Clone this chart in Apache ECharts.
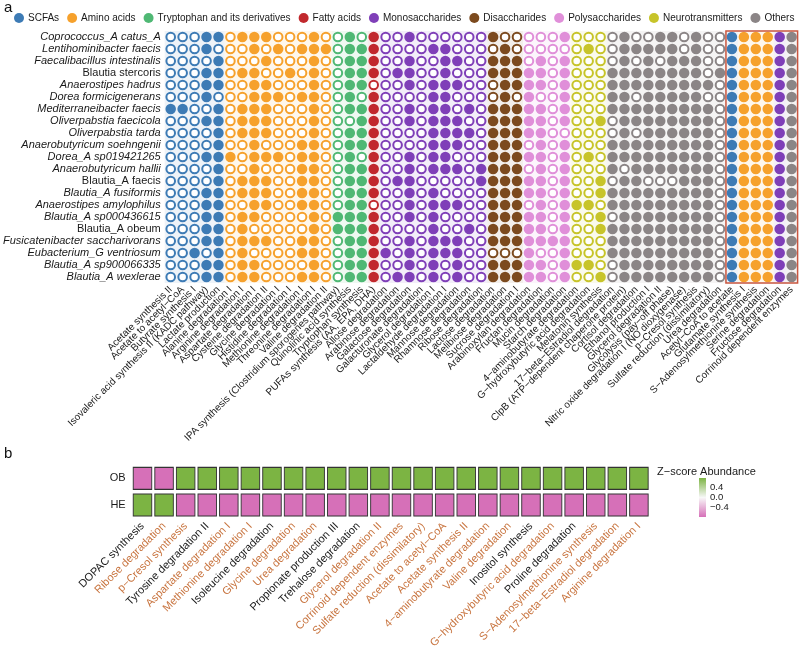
<!DOCTYPE html>
<html>
<head>
<meta charset="utf-8">
<script src="https://cdn.jsdelivr.net/npm/echarts@6/dist/echarts.min.js"></script>
<style>
  html, body { margin: 0; padding: 0; background: #fff; }
  #main { width: 800px; height: 653px; }
</style>
</head>
<body>
<div id="main"></div>
<script>
// ---- panel a: pathway presence per species ----
const categories = ['SCFAs', 'Amino acids', 'Tryptophan and its derivatives', 'Fatty acids',
  'Monosaccharides', 'Disaccharides', 'Polysaccharides', 'Neurotransmitters', 'Others'];
const categoryColors = ['#3d7bb5', '#f6a12c', '#4fb874', '#c1282d', '#7f3fb8',
  '#7c4a1e', '#e08fd9', '#c7c42a', '#8b8586'];

const pathways = [
  'Acetate synthesis II', 'Acetate to acetyl\u2212CoA', 'Butyrate synthesis I',
  'Isovaleric acid synthesis II (KADC pathway)', 'Lactate production',
  'Alanine degradation I', 'Arginine degradation I', 'Aspartate degradation I',
  'Cysteine degradation II', 'Glycine degradation I', 'Histidine degradation I',
  'Methionine degradation I', 'Threonine degradation I', 'Valine degradation II',
  'IPA synthesis (Clostridium sporogenes pathway)', 'Quinolinic acid synthesis', 'Tryptophan synthesis',
  'PUFAs synthesis (AA, EPA, DHA)',
  'Allose degradation', 'Arabinose degradation', 'Galactose degradation', 'Galacturonate degradation',
  'Glycerol degradation I', 'Lactaldehyde degradation I', 'Mannose degradation',
  'Rhamnose degradation', 'Ribose degradation',
  'Lactose degradation', 'Melibiose degradation', 'Sucrose degradation I',
  'Arabinoxylan degradation', 'Fructan degradation', 'Mucin degradation', 'Starch degradation',
  '4\u2212aminobutyrate degradation', 'G\u2212hydroxybutyric acid degradation', 'Melatonin synthesis',
  '17\u2212beta\u2212Estradiol degradation', 'ClpB (ATP\u2212dependent chaperone protein)',
  'Cortisol degradation', 'Ethanol production I', 'Glycerol degradation II',
  'Glycolysis (pay\u2212off phase)', 'Nitric oxide degradation I (NO dioxygenase)',
  'p\u2212Cresol synthesis', 'Sulfate reduction (dissimilatory)', 'Urea degradation',
  'Acetyl\u2212CoA to acetate', 'Glutamate synthesis I', 'S\u2212Adenosylmethionine synthesis',
  'Serine degradation', 'Fructose degradation', 'Corrinoid dependent enzymes'
];
const pathwayCategory = [
  0, 0, 0, 0, 0,
  1, 1, 1, 1, 1, 1, 1, 1, 1,
  2, 2, 2,
  3,
  4, 4, 4, 4, 4, 4, 4, 4, 4,
  5, 5, 5,
  6, 6, 6, 6,
  7, 7, 7,
  8, 8, 8, 8, 8, 8, 8, 8, 8, 8,
  0, 1, 1, 1, 4, 8
];
const boxedFrom = 47;  // pathways shared by every species
const boxedTo = 52;

const species = [
  'Coprococcus_A catus_A', 'Lentihominibacter faecis', 'Faecalibacillus intestinalis',
  'Blautia stercoris', 'Anaerostipes hadrus', 'Dorea formicigenerans', 'Mediterraneibacter faecis',
  'Oliverpabstia faecicola', 'Oliverpabstia tarda', 'Anaerobutyricum soehngenii', 'Dorea_A sp019421265',
  'Anaerobutyricum hallii', 'Blautia_A faecis', 'Blautia_A fusiformis', 'Anaerostipes amylophilus',
  'Blautia_A sp000436615', 'Blautia_A obeum', 'Fusicatenibacter saccharivorans',
  'Eubacterium_G ventriosum', 'Blautia_A sp900066335', 'Blautia_A wexlerae'
];
const uprightSpecies = ['Blautia stercoris', 'Blautia_A faecis', 'Blautia_A obeum'];

// 1 = pathway present (filled dot), 0 = absent (ring); groups follow pathwayCategory
const presence = [
  '00011 011100010 010 1 001000000 100 0001 000 0100110100 111111',
  '00010 001010111 011 1 000011000 010 0000 010 0111110100 111111',
  '00001 000100010 011 1 001001100 111 0101 000 0101011100 111111',
  '00011 011001010 011 1 011001000 111 1101 000 1111111101 111111',
  '00011 001100010 011 0 001011100 011 1101 000 1111111110 111111',
  '00010 001110110 010 1 000011000 010 1001 000 1101111100 111111',
  '11001 011100010 011 1 001011010 111 1101 000 1111111110 111111',
  '00011 011100010 001 1 001011100 111 1101 001 0111111110 111111',
  '00001 011100010 011 1 000011110 111 1100 000 0101111110 111111',
  '00001 001000110 011 1 000011100 111 0101 000 1111111110 111111',
  '00011 101110110 010 1 001011000 111 1101 010 1111111110 111111',
  '00001 001000110 011 1 001011101 111 0101 000 1011111110 111111',
  '00001 011100110 011 1 011000001 111 1101 001 0110001110 111111',
  '00011 011100110 011 1 001010000 111 1101 001 1111111110 111111',
  '00011 001100110 011 0 001011100 111 0101 110 1111111110 111111',
  '00011 011000010 111 1 001010000 111 1101 001 0111111110 111111',
  '00011 010000010 111 1 000010010 111 1101 001 1111111110 111111',
  '00011 011100110 011 1 001011100 111 1111 000 1111111110 111111',
  '00101 010000110 011 1 101011100 000 1001 000 1111111110 111111',
  '00011 011000010 011 1 001010100 111 1101 110 0111111110 111111',
  '00011 011000110 011 1 011010100 111 1101 001 0111111110 111111'
];

// ---- panel b: z-score abundance OB vs HE ----
const heatPathways = [
  'DOPAC synthesis', 'Ribose degradation', 'p\u2212Cresol synthesis', 'Tyrosine degradation II',
  'Aspartate degradation I', 'Methionine degradation I', 'Isoleucine degradation', 'Glycine degradation',
  'Urea degradation', 'Propionate production III', 'Trehalose degradation', 'Glycerol degradation II',
  'Corrinoid dependent enzymes', 'Sulfate reduction (dissimilatory)', 'Acetate to acetyl\u2212CoA',
  'Acetate synthesis II', '4\u2212aminobutyrate degradation', 'Valine degradation', 'Inositol synthesis',
  'G\u2212hydroxybutyric acid degradation', 'Proline degradation', 'S\u2212Adenosylmethionine synthesis',
  '17\u2212beta\u2212Estradiol degradation', 'Arginine degradation I'
];
const heatGroups = ['OB', 'HE'];
const obZ = [-0.71, -0.71, 0.71, 0.71, 0.71, 0.71, 0.71, 0.71, 0.71, 0.71, 0.71, 0.71,
  0.71, 0.71, 0.71, 0.71, 0.71, 0.71, 0.71, 0.71, 0.71, 0.71, 0.71, 0.71];
const heZ = [0.71, 0.71, -0.71, -0.71, -0.71, -0.71, -0.71, -0.71, -0.71, -0.71, -0.71, -0.71,
  -0.71, -0.71, -0.71, -0.71, -0.71, -0.71, -0.71, -0.71, -0.71, -0.71, -0.71, -0.71];
// labels not shared with panel a are drawn in black
const blackLabels = ['DOPAC synthesis', 'Tyrosine degradation II', 'Isoleucine degradation',
  'Propionate production III', 'Trehalose degradation', 'Inositol synthesis', 'Proline degradation'];
const zScale = [-0.8, 0.8];

const HIGH = '#7cb443';
const LOW = '#d670b8';
const FONT = 'Liberation Sans, Arial, Helvetica, sans-serif';

const chart = echarts.init(document.getElementById('main'));

const dotSeries = categories.map((name, c) => {
  const data = [];
  presence.forEach((row, r) => {
    const bits = row.replace(/ /g, '');
    for (let p = 0; p < bits.length; p++) {
      if (pathwayCategory[p] !== c) continue;
      if (bits[p] === '1') {
        data.push({ value: [p, r], symbolSize: 10.5 });
      } else {
        data.push({
          value: [p, r], symbolSize: 8.6,
          itemStyle: { color: '#fff', borderColor: categoryColors[c], borderWidth: 2 }
        });
      }
    }
  });
  return {
    name, type: 'scatter', xAxisIndex: 0, yAxisIndex: 0, z: 3, silent: true,
    itemStyle: { color: categoryColors[c], opacity: 1 }, data
  };
});

// faint column tint behind every pathway
const tintSeries = {
  type: 'custom', xAxisIndex: 0, yAxisIndex: 0, z: 1, silent: true,
  data: pathways.map((p, i) => [i, 0, pathwayCategory[i]]),
  renderItem(params, api) {
    const cs = params.coordSys;
    const x = api.coord([api.value(0), 0])[0];
    const w = api.size([1, 0])[0];
    return {
      type: 'rect',
      shape: { x: x - w / 2, y: cs.y, width: w, height: cs.height },
      style: { fill: categoryColors[api.value(2)], opacity: 0.09 }
    };
  }
};

const boxSeries = {
  type: 'custom', xAxisIndex: 0, yAxisIndex: 0, z: 5, silent: true,
  data: [[boxedFrom, 0, boxedTo]],
  renderItem(params, api) {
    const cs = params.coordSys;
    const w = api.size([1, 0])[0];
    const x0 = api.coord([api.value(0), 0])[0] - w / 2;
    const x1 = api.coord([api.value(2), 0])[0] + w / 2;
    return {
      type: 'rect',
      shape: { x: x0, y: cs.y, width: x1 - x0, height: cs.height },
      style: { fill: 'none', stroke: '#c8553f', lineWidth: 1.5 }
    };
  }
};

const heatData = [];
heatPathways.forEach((p, i) => {
  heatData.push([i, 0, obZ[i]]);
  heatData.push([i, 1, heZ[i]]);
});

const heatSeries = {
  type: 'scatter', xAxisIndex: 1, yAxisIndex: 1, silent: true,
  symbol: 'rect', symbolSize: [18.5, 22],
  itemStyle: { borderColor: '#333', borderWidth: 1, opacity: 1 },
  data: heatData
};

const colorbarSeries = {
  type: 'custom', xAxisIndex: 2, yAxisIndex: 2, silent: true,
  data: [[0.5, zScale[1], zScale[0]]],
  renderItem(params, api) {
    const cs = params.coordSys;
    const top = api.coord([0.5, api.value(1)])[1];
    const bottom = api.coord([0.5, api.value(2)])[1];
    return {
      type: 'rect',
      shape: { x: cs.x, y: top, width: cs.width, height: bottom - top },
      style: {
        fill: new echarts.graphic.LinearGradient(0, 0, 0, 1, [
          { offset: 0, color: HIGH },
          { offset: 0.5, color: '#f8f8f8' },
          { offset: 1, color: LOW }
        ])
      }
    };
  }
};

const series = [tintSeries, ...dotSeries, boxSeries, heatSeries, colorbarSeries];
const heatIndex = series.indexOf(heatSeries);

chart.setOption({
  animation: false,
  textStyle: { fontFamily: FONT },
  title: [
    { text: 'a', left: 4, top: 0, padding: 0, textStyle: { fontSize: 15, fontWeight: 'normal', color: '#111' } },
    { text: 'b', left: 4, top: 446, padding: 0, textStyle: { fontSize: 15, fontWeight: 'normal', color: '#111' } },
    { text: 'Z\u2212score Abundance', left: 657, top: 466, padding: 0, textStyle: { fontSize: 11, fontWeight: 'normal', color: '#1a1a1a' } }
  ],
  legend: {
    data: categories, icon: 'circle', left: 14, top: 13, padding: 0,
    itemWidth: 10, itemHeight: 10, itemGap: 8, selectedMode: false,
    textStyle: { fontSize: 10, color: '#1a1a1a', padding: [0, 0, 0, -1] }
  },
  visualMap: {
    type: 'continuous', show: false, seriesIndex: heatIndex, dimension: 2,
    min: -0.71, max: 0.71, inRange: { color: [LOW, '#f8f8f8', HIGH] }
  },
  grid: [
    { left: 152, top: 31, width: 645.6, height: 252 },
    { left: 131.7, top: 465, width: 518, height: 53.4 },
    { left: 699, top: 478, width: 7, height: 39 }
  ],
  xAxis: [
    {
      type: 'category', gridIndex: 0, data: pathways,
      axisLine: { show: false }, axisTick: { show: false }, splitLine: { show: false },
      axisLabel: { rotate: 45, interval: 0, fontSize: 10, color: '#1a1a1a', margin: 5 }
    },
    {
      type: 'category', gridIndex: 1, data: heatPathways,
      axisLine: { show: false }, axisTick: { show: false }, splitLine: { show: false },
      axisLabel: {
        rotate: 45, interval: 0, fontSize: 11, margin: 6,
        color: v => (blackLabels.includes(v) ? '#1a1a1a' : '#c8743f')
      }
    },
    { type: 'value', gridIndex: 2, min: 0, max: 1, show: false }
  ],
  yAxis: [
    {
      type: 'category', gridIndex: 0, data: species, inverse: true,
      axisLine: { show: false }, axisTick: { show: false }, splitLine: { show: false },
      axisLabel: {
        margin: 4, interval: 0,
        formatter: v => (uprightSpecies.includes(v) ? '{n|' + v + '}' : '{i|' + v + '}'),
        rich: {
          i: { fontSize: 11, fontStyle: 'italic', color: '#1a1a1a', fontFamily: FONT },
          n: { fontSize: 11, color: '#1a1a1a', fontFamily: FONT }
        }
      }
    },
    {
      type: 'category', gridIndex: 1, data: heatGroups, inverse: true,
      axisLine: { show: false }, axisTick: { show: false }, splitLine: { show: false },
      axisLabel: { fontSize: 11, color: '#1a1a1a', margin: 6 }
    },
    {
      type: 'value', gridIndex: 2, min: zScale[0], max: zScale[1], interval: 0.4, position: 'right',
      axisLine: { show: false }, axisTick: { show: false }, splitLine: { show: false },
      axisLabel: {
        fontSize: 9.5, color: '#1a1a1a', margin: 4, showMinLabel: false, showMaxLabel: false,
        formatter: v => (Math.abs(v) < 1e-9 ? '0.0' : (v < 0 ? '\u2212' : '') + Math.abs(v).toFixed(1))
      }
    }
  ],
  series
});
</script>
</body>
</html>
